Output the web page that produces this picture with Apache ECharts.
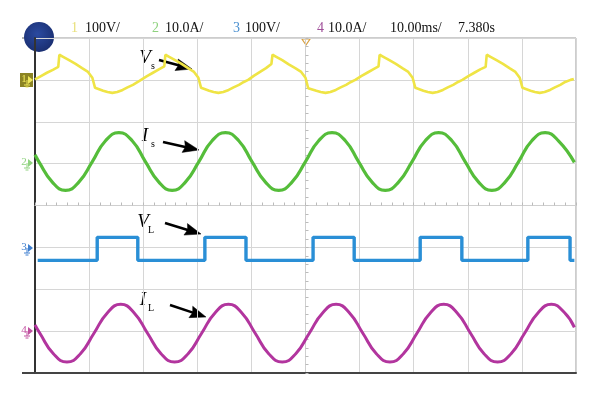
<!DOCTYPE html>
<html>
<head>
<meta charset="utf-8">
<script src="https://cdn.jsdelivr.net/npm/echarts@6/dist/echarts.min.js"></script>
<style>
  html, body { margin: 0; padding: 0; background: #fff; }
  #chart { width: 600px; height: 398px; }
</style>
</head>
<body>
<div id="chart"></div>
<script>
// time in ms, 10 ms / div
var timeTicks = [0, 10, 20, 30, 40, 50, 60, 70, 80, 90, 100]

// channel 1: Vs (V), 100 V/div
var vsPoints = [
  [0,1],[1.1,9],[2.2,17],[3.3,24],[4.3,31],[4.5,60],[5.2,55],[6.3,47],[7.5,38],[8.7,28],[9.8,19],[10.6,5],[11.1,-19],[12.6,-26],[13.4,-29],[14.3,-31],[15.2,-29],[16.2,-24],[17.1,-18],[18.1,-12],[19.0,-5],
  [19.6,0],[20.7,9],[21.8,17],[22.9,25],[23.9,32],[24.1,60],[24.8,55],[25.9,47],[27.1,38],[28.3,28],[29.4,19],[30.2,5],[30.7,-19],[32.2,-26],[33.0,-29],[33.9,-31],[34.8,-29],[35.8,-24],[36.7,-18],[37.7,-12],[38.6,-5],
  [39.4,0],[40.5,10],[41.6,19],[42.7,28],[43.7,38],[43.9,60],[44.6,55],[45.7,47],[46.9,37],[48.1,28],[49.2,19],[50.0,5],[50.5,-20],[52.0,-26],[52.8,-29],[53.7,-31],[54.6,-29],[55.6,-24],[56.5,-18],[57.5,-12],[58.4,-5],
  [59.2,0],[60.3,9],[61.4,17],[62.5,25],[63.5,32],[63.7,60],[64.4,55],[65.5,47],[66.7,38],[67.9,28],[69.0,19],[69.8,5],[70.3,-19],[71.8,-26],[72.6,-29],[73.5,-31],[74.4,-29],[75.4,-24],[76.3,-18],[77.3,-12],[78.2,-5],
  [79.0,0],[80.1,9],[81.2,17],[82.3,25],[83.3,31],[83.5,60],[84.2,55],[85.3,47],[86.5,38],[87.7,28],[88.8,19],[89.6,5],[90.1,-19],[91.6,-26],[92.4,-29],[93.3,-31],[94.2,-29],[95.2,-24],[96.1,-18],[97.1,-12],[98.0,-5],[99.0,0],[99.6,2]
]

// channel 2: Is (A), 10 A/div
var isPoints = [
  [0,2.1],[0.7,0.5],[3.2,-4.4],[5.65,-6.4],[8.1,-4.4],[10.6,0.5],[13.0,5.4],[15.5,7.4],[18.0,5.4],[20.4,0.5],
  [22.9,-4.4],[25.35,-6.4],[27.8,-4.4],[30.3,0.5],[32.7,5.4],[35.2,7.4],[37.7,5.4],[40.1,0.5],
  [42.6,-4.4],[45.05,-6.4],[47.5,-4.4],[50.0,0.5],[52.4,5.4],[54.9,7.4],[57.4,5.4],[59.8,0.5],
  [62.3,-4.4],[64.75,-6.4],[67.2,-4.4],[69.7,0.5],[72.1,5.4],[74.6,7.4],[77.1,5.4],[79.5,0.5],
  [82.0,-4.4],[84.45,-6.4],[86.9,-4.4],[89.4,0.5],[91.8,5.4],[94.3,7.4],[96.8,5.4],[99.7,0.3]
]

// channel 3: VL (V), 100 V/div
var vlPoints = [
  [0.5,-31],[11.5,-31],[11.5,24],[19.0,24],[19.0,-31],[31.4,-31],[31.4,24],[39.0,24],[39.0,-31],
  [51.4,-31],[51.4,24],[59.0,24],[59.0,-31],[71.2,-31],[71.2,24],[78.9,24],[78.9,-31],
  [91.1,-31],[91.1,24],[98.9,24],[98.9,-31],[99.7,-31]
]

// channel 4: IL (A), 10 A/div
var ilPoints = [
  [0,1.5],[0.9,-0.5],[3.4,-5.4],[5.9,-7.4],[8.4,-5.4],[10.9,-0.5],[13.4,4.4],[15.85,6.4],[18.3,4.4],[20.8,-0.5],
  [23.3,-5.4],[25.8,-7.4],[28.3,-5.4],[30.8,-0.5],[33.3,4.4],[35.75,6.4],[38.2,4.4],[40.7,-0.5],
  [43.2,-5.4],[45.7,-7.4],[48.2,-5.4],[50.7,-0.5],[53.2,4.4],[55.65,6.4],[58.1,4.4],[60.6,-0.5],
  [63.1,-5.4],[65.6,-7.4],[68.1,-5.4],[70.6,-0.5],[73.1,4.4],[75.55,6.4],[78.0,4.4],[80.5,-0.5],
  [83.0,-5.4],[85.5,-7.4],[88.0,-5.4],[90.5,-0.5],[93.0,4.4],[95.45,6.4],[97.9,4.4],[99.7,0.9]
]

// header: channel number, scale
var headerItems = [
  ['1', '100V/', '#e8e07a', 71, 85],
  ['2', '10.0A/', '#8fd27f', 152, 165],
  ['3', '100V/', '#4a90d0', 233, 245],
  ['4', '10.0A/', '#a0509a', 317, 328]
]
var timebase = '10.00ms/'
var timeOffset = '7.380s'

// ground level (div) and volts-or-amps per div
function toDiv(points, ground, perDiv) {
  return points.map(function (p) { return [p[0], ground + p[1] / perDiv] })
}

var chart = echarts.init(document.getElementById('chart'))
var serif = '"Liberation Serif", "DejaVu Serif", serif'

function arrow(x1, y1, x2, y2) {
  var dx = x2 - x1, dy = y2 - y1, len = Math.sqrt(dx * dx + dy * dy)
  var ux = dx / len, uy = dy / len, nx = -uy, ny = ux
  var hl = 16, hw = 6
  var bx = x2 - ux * hl, by = y2 - uy * hl
  return [
    { type: 'line', shape: { x1: x1, y1: y1, x2: bx + ux * 3, y2: by + uy * 3 }, style: { stroke: '#000', lineWidth: 2.6 } },
    { type: 'polygon', shape: { points: [[x2, y2], [bx + nx * hw, by + ny * hw], [bx + ux * 2, by + uy * 2], [bx - nx * hw, by - ny * hw]] }, style: { fill: '#000', stroke: '#000', lineWidth: 0.5 } }
  ]
}

function label(x, y, main, sub) {
  return [
    { type: 'text', style: { text: main, x: x, y: y, font: 'italic 19px ' + serif, fill: '#000', textAlign: 'center', textVerticalAlign: 'middle' } },
    { type: 'text', style: { text: sub, x: x + 8, y: y + 8, font: '10px ' + serif, fill: '#000', textAlign: 'center', textVerticalAlign: 'middle' } }
  ]
}

function marker(num, y, color, boxed) {
  var els = []
  if (boxed) {
    els.push({ type: 'rect', shape: { x: 20, y: y - 7, width: 13, height: 14 }, style: { fill: '#8c8424' } })
  }
  els.push({ type: 'text', style: { text: num, x: 24, y: y - 1, font: '11px ' + serif, fill: color, textAlign: 'center', textVerticalAlign: 'middle' } })
  els.push({ type: 'polygon', shape: { points: [[28, y - 4], [33, y], [28, y + 4]] }, style: { fill: color } })
  els.push({ type: 'line', shape: { x1: 27, y1: y, x2: 27, y2: y + 5 }, style: { stroke: color, lineWidth: 1 } })
  els.push({ type: 'line', shape: { x1: 24, y1: y + 5, x2: 30, y2: y + 5 }, style: { stroke: color, lineWidth: 1 } })
  els.push({ type: 'line', shape: { x1: 25.5, y1: y + 7, x2: 28.5, y2: y + 7 }, style: { stroke: color, lineWidth: 1 } })
  return els
}

var graphics = []
graphics.push({ type: 'line', shape: { x1: 22, y1: 38, x2: 35, y2: 38 }, style: { stroke: '#999', lineWidth: 1.5 } })
graphics.push({ type: 'line', shape: { x1: 22, y1: 373, x2: 35, y2: 373 }, style: { stroke: '#444', lineWidth: 2 } })
graphics.push({
  type: 'circle', shape: { cx: 39, cy: 37, r: 15 },
  style: { fill: new echarts.graphic.RadialGradient(0.45, 0.4, 0.6, [{ offset: 0, color: '#2b4aa0' }, { offset: 1, color: '#1a2f72' }]) }
})
graphics.push({ type: 'polygon', shape: { points: [[302, 39], [310, 39], [306, 45]] }, style: { fill: 'none', stroke: '#d9a040', lineWidth: 1.2 } })
headerItems.forEach(function (h) {
  graphics.push({ type: 'text', style: { text: h[0], x: h[3], y: 28, font: '14px ' + serif, fill: h[2], textVerticalAlign: 'middle' } })
  graphics.push({ type: 'text', style: { text: h[1], x: h[4], y: 28, font: '14px ' + serif, fill: '#111', textVerticalAlign: 'middle' } })
})
graphics.push({ type: 'text', style: { text: timebase, x: 390, y: 28, font: '14px ' + serif, fill: '#111', textVerticalAlign: 'middle' } })
graphics.push({ type: 'text', style: { text: timeOffset, x: 458, y: 28, font: '14px ' + serif, fill: '#111', textVerticalAlign: 'middle' } })

graphics = graphics
  .concat(marker('1', 80, '#f0e85a', true))
  .concat(marker('2', 163, '#8fd27f', false))
  .concat(marker('3', 248, '#3f7fcf', false))
  .concat(marker('4', 331, '#c0509f', false))
  .concat(label(145, 58, 'V', 's')).concat(arrow(159, 60, 192, 69))
  .concat(label(145, 136, 'I', 's')).concat(arrow(163, 142, 199, 150))
  .concat(label(143, 222, 'V', 'L')).concat(arrow(165, 223, 201, 234))
  .concat(label(143, 300, 'I', 'L')).concat(arrow(170, 305, 206, 317))

var gridLine = { show: true, lineStyle: { color: '#d6d6d6', width: 1 } }

var option = {
  animation: false,
  backgroundColor: '#fff',
  grid: { left: 35, right: 24, top: 38, bottom: 25, show: true, borderColor: '#9a9a9a', borderWidth: 1 },
  xAxis: [
    {
      type: 'value', min: 0, max: 100, interval: 10,
      axisLine: { show: true, onZero: true, lineStyle: { color: '#cfcfcf' } },
      axisTick: { show: true, inside: true, length: 3, lineStyle: { color: '#bbb' } },
      minorTick: { show: true, splitNumber: 5, length: 3, lineStyle: { color: '#bbb' } },
      axisLabel: { show: false },
      splitLine: gridLine
    },
    {
      type: 'value', min: 0, max: 100, position: 'bottom',
      axisLine: { show: true, onZero: false, lineStyle: { color: '#444', width: 2 } },
      axisTick: { show: false }, axisLabel: { show: false }, splitLine: { show: false }
    }
  ],
  yAxis: [
    {
      type: 'value', min: -4, max: 4, interval: 1,
      axisLine: { show: true, onZero: false, lineStyle: { color: '#333', width: 2 } },
      axisTick: { show: false }, axisLabel: { show: false },
      splitLine: gridLine
    },
    {
      type: 'value', min: -4, max: 4, interval: 1, position: 'left', offset: -270.5,
      axisLine: { show: true, onZero: false, lineStyle: { color: '#cfcfcf' } },
      axisTick: { show: true, inside: true, length: 3, lineStyle: { color: '#bbb' } },
      minorTick: { show: true, splitNumber: 5, length: 3, lineStyle: { color: '#bbb' } },
      axisLabel: { show: false }, splitLine: { show: false }
    }
  ],
  series: [
    {
      name: 'Vs', type: 'line', showSymbol: false, smooth: false,
      lineStyle: { color: '#efe445', width: 2.6 },
      data: toDiv(vsPoints, 3, 100)
    },
    {
      name: 'Is', type: 'line', showSymbol: false, smooth: 0.5,
      lineStyle: { color: '#55bd3a', width: 3.2 },
      data: toDiv(isPoints, 1, 10)
    },
    {
      name: 'VL', type: 'line', showSymbol: false,
      lineStyle: { color: '#2a8fd6', width: 3.4 },
      data: toDiv(vlPoints, -1, 100)
    },
    {
      name: 'IL', type: 'line', showSymbol: false, smooth: 0.5,
      lineStyle: { color: '#b2359e', width: 3 },
      data: toDiv(ilPoints, -3, 10)
    }
  ],
  graphic: graphics
}

chart.setOption(option)
</script>
</body>
</html>
